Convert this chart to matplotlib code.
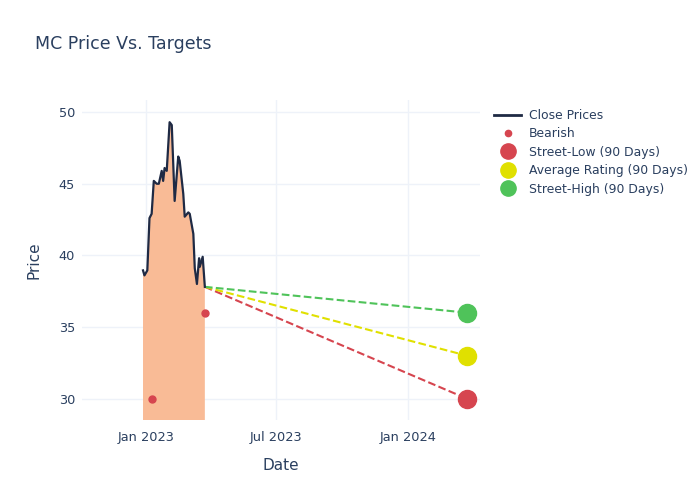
import matplotlib
matplotlib.use("Agg")
import matplotlib.pyplot as plt
import matplotlib.dates as mdates
import numpy as np
import pandas as pd
from matplotlib.lines import Line2D

# close prices
dates = pd.to_datetime([
    '2022-12-28', '2022-12-30', '2023-01-03', '2023-01-06', '2023-01-09',
    '2023-01-12', '2023-01-16', '2023-01-19', '2023-01-23', '2023-01-25',
    '2023-01-27', '2023-01-30', '2023-02-03', '2023-02-06', '2023-02-10',
    '2023-02-15', '2023-02-17', '2023-02-22', '2023-02-24', '2023-03-01',
    '2023-03-03', '2023-03-08', '2023-03-10', '2023-03-13', '2023-03-16',
    '2023-03-17', '2023-03-21', '2023-03-24'])
closes = [38.95, 38.6, 38.95, 42.6, 42.9, 45.2, 45.0, 45.0, 45.9, 45.2,
          46.1, 45.9, 49.3, 49.1, 43.8, 46.9, 46.6, 44.3, 42.7, 43.0,
          42.9, 41.5, 39.1, 38.0, 39.8, 39.2, 39.9, 37.8]

bearish_dates = pd.to_datetime(['2023-01-09', '2023-03-24'])
bearish_values = [30, 36]

target_date = pd.Timestamp('2024-03-22')
target_names = ['Street-Low (90 Days)', 'Average Rating (90 Days)', 'Street-High (90 Days)']
target_values = [30, 33, 36]
target_colors = ['#d6454f', '#e0e000', '#4fc35a']

text_color = '#2a3f5f'
grid_color = '#eef2f9'

fig = plt.figure(figsize=(7, 5), dpi=100)
ax = fig.add_axes([0.117, 0.16, 0.569, 0.64])

ax.fill_between(dates, closes, 0, color='#f9bb96', lw=0, zorder=1)
ax.plot(dates, closes, color='#1f2a44', lw=1.6, zorder=3)

ax.plot(bearish_dates, bearish_values, 'o', color='#d6454f', ms=5, zorder=4)

last_date, last_close = dates[-1], closes[-1]
for val, col in zip(target_values, target_colors):
    ax.plot([last_date, target_date], [last_close, val], '--', color=col, lw=1.5, zorder=2)
    ax.plot([target_date], [val], 'o', color=col, ms=13, zorder=5)

ax.set_xlim(pd.Timestamp('2022-10-04'), pd.Timestamp('2024-04-10'))
ax.set_ylim(28.5, 50.85)
ax.set_yticks([30, 35, 40, 45, 50])
ax.xaxis.set_major_locator(mdates.MonthLocator(bymonth=[1, 7]))
ax.xaxis.set_major_formatter(mdates.DateFormatter('%b %Y'))

ax.grid(True, color=grid_color, lw=1)
ax.set_axisbelow(True)
for s in ax.spines.values():
    s.set_visible(False)
ax.tick_params(axis='x', length=0, colors=text_color, labelsize=9.3, pad=8)
ax.tick_params(axis='y', length=0, colors=text_color, labelsize=9.3, pad=5)
ax.set_xlabel('Date', color=text_color, fontsize=11, labelpad=10)
ax.set_ylabel('Price', color=text_color, fontsize=11, labelpad=12)

fig.text(0.05, 0.912, 'MC Price Vs. Targets', color=text_color, fontsize=12.5, va='center')

handles = [Line2D([], [], color='#1f2a44', lw=2),
           Line2D([], [], ls='', marker='o', color='#d6454f', ms=4.5)]
handles += [Line2D([], [], ls='', marker='o', color=c, ms=11) for c in target_colors]
labels = ['Close Prices', 'Bearish'] + target_names
leg = fig.legend(handles, labels, loc='upper left', bbox_to_anchor=(0.699, 0.792),
                 frameon=False, fontsize=8.9, handlelength=2.2, labelspacing=0.44,
                 handletextpad=0.6, borderaxespad=0)
for t in leg.get_texts():
    t.set_color(text_color)

fig.savefig('out.png', dpi=100)
